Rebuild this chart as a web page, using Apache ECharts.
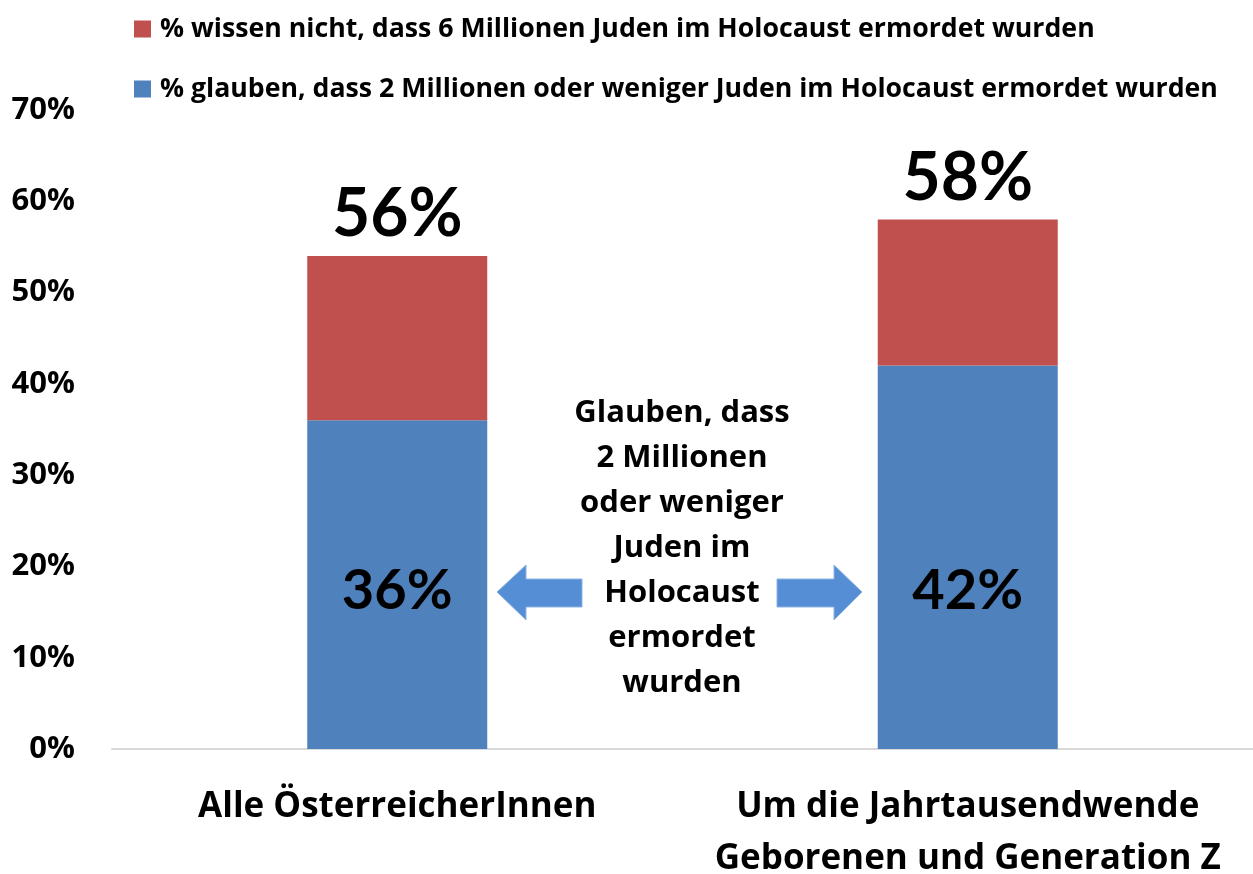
<!DOCTYPE html>
<html>
<head>
<meta charset="utf-8">
<script src="https://cdn.jsdelivr.net/npm/echarts@6/dist/echarts.min.js"></script>
<style>
html,body{margin:0;padding:0;background:#fff;}
#chart{width:1253px;height:874px;}
</style>
</head>
<body>
<div id="chart"></div>
<script>
// ---- data ----
const categories = ['Alle ÖsterreicherInnen', 'Um die Jahrtausendwende\nGeborenen und Generation Z'];
const seriesNames = [
  '% glauben, dass 2 Millionen oder weniger Juden im Holocaust ermordet wurden',
  '% wissen nicht, dass 6 Millionen Juden im Holocaust ermordet wurden'
];
const blueValues = [36, 42];
const redValues = [18, 16];
const totalLabels = ['56%', '58%'];
const yTicks = [0, 10, 20, 30, 40, 50, 60, 70];
const centerNote = ['Glauben, dass', '2 Millionen', 'oder weniger', 'Juden im', 'Holocaust', 'ermordet', 'wurden'];

const FONT = 'Open Sans';
const BIG = 'Lato';
const chart = echarts.init(document.getElementById('chart'));
const option = {
  animation: false,
  backgroundColor: '#ffffff',
  legend: {
    data: [seriesNames[1], seriesNames[0]],
    orient: 'vertical',
    left: 129,
    top: 9,
    itemWidth: 17,
    itemHeight: 17,
    itemGap: 30,
    icon: 'rect',
    textStyle: { fontFamily: FONT, fontWeight: 'bold', fontSize: 26.7, color: '#000', lineHeight: 30, padding: [0, 0, 0, 4] }
  },
  grid: { left: 112, right: 0, top: 110, bottom: 125, outerBoundsMode: 'none', containLabel: false },
  xAxis: {
    type: 'category',
    data: categories,
    axisLine: { lineStyle: { color: '#d9d9d9', width: 2 } },
    axisTick: { show: false },
    axisLabel: {
      interval: 0, margin: 32,
      fontFamily: FONT, fontWeight: 'bold', fontSize: 35, lineHeight: 52, color: '#000'
    }
  },
  yAxis: {
    type: 'value',
    min: yTicks[0], max: yTicks[yTicks.length - 1], interval: 10,
    splitLine: { show: false },
    axisLine: { show: false },
    axisTick: { show: false },
    axisLabel: {
      formatter: '{value}%', margin: 37,
      fontFamily: FONT, fontWeight: 'bold', fontSize: 31, color: '#000'
    }
  },
  series: [
    {
      name: seriesNames[0], type: 'bar', stack: 'total', barWidth: 180,
      data: blueValues,
      itemStyle: { color: '#4f81bd' },
      label: {
        show: true, position: 'insideBottom', distance: 130,
        formatter: '{c}%',
        fontFamily: BIG, fontWeight: 'bold', fontSize: 56, lineHeight: 56, color: '#000'
      }
    },
    {
      name: seriesNames[1], type: 'bar', stack: 'total', barWidth: 180,
      data: redValues,
      itemStyle: { color: '#c0504d' },
      label: {
        show: true, position: 'top', distance: 8,
        formatter: p => totalLabels[p.dataIndex],
        fontFamily: BIG, fontWeight: 'bold', fontSize: 66, lineHeight: 66, color: '#000'
      }
    }
  ],
  graphic: [
    {
      type: 'text', x: 682, y: 548,
      style: {
        text: centerNote.join('\n'),
        align: 'center', verticalAlign: 'middle',
        fontFamily: FONT, fontWeight: 'bold', fontSize: 31, lineHeight: 45, fill: '#000'
      }
    },
    {
      type: 'polygon',
      shape: { points: [[497,592],[526,565],[526,579],[582,579],[582,607],[526,607],[526,620]] },
      style: { fill: '#558ed5', stroke: '#8eb4e3', lineWidth: 1 }
    },
    {
      type: 'polygon',
      shape: { points: [[862,592],[834,565],[834,579],[777,579],[777,607],[834,607],[834,620]] },
      style: { fill: '#558ed5', stroke: '#8eb4e3', lineWidth: 1 }
    }
  ]
};
chart.setOption(option);
</script>
</body>
</html>
